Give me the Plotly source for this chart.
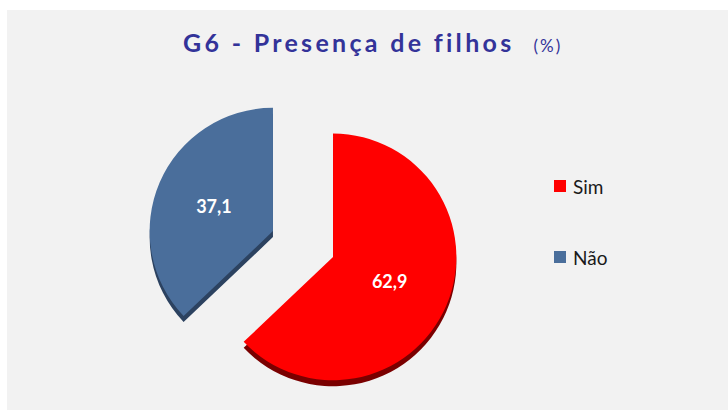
import plotly.graph_objects as go

categories = ["Sim", "Não"]
values = [62.9, 37.1]
value_labels = ["62,9", "37,1"]
colors = ["#FF0000", "#4A6E9B"]
shadow_colors = ["#7A0000", "#2C4260"]

W, H = 728, 412
dom_x = [147 / W, 459 / W]
dom_y = [12 / H, 324 / H]
shift = 6 / H

fig = go.Figure()

# 3D rim (shadow) pie, drawn behind
fig.add_trace(go.Pie(
    labels=categories, values=values, sort=False, direction="clockwise",
    rotation=0, pull=[0.265, 0.265],
    marker=dict(colors=shadow_colors, line=dict(width=0)),
    textinfo="none", hoverinfo="skip", showlegend=False,
    domain=dict(x=dom_x, y=[dom_y[0] - shift, dom_y[1] - shift]),
))

fig.add_trace(go.Pie(
    labels=categories, values=values, sort=False, direction="clockwise",
    rotation=0, pull=[0.265, 0.265],
    marker=dict(colors=colors, line=dict(width=0)),
    text=value_labels, textinfo="text", textposition="inside",
    insidetextorientation="horizontal",
    textfont=dict(family="Lato, Open Sans, sans-serif", size=18, color="white", weight="bold"),
    showlegend=False,
    domain=dict(x=dom_x, y=dom_y),
))

shapes = [
    dict(type="rect", xref="paper", yref="paper", x0=7 / W, x1=1, y0=1 - 410 / H, y1=1 - 10 / H,
         fillcolor="#F2F2F2", line=dict(width=0), layer="below"),
]
annotations = [
    dict(xref="paper", yref="paper", x=373 / W, y=1 - 42 / H, xanchor="center", yanchor="middle",
         showarrow=False,
         text='<span style="letter-spacing:3.3px"><b>G6 - Presença de filhos</b></span>'
              '<span style="font-size:17px;letter-spacing:2px">   (%)</span>',
         font=dict(family="Lato, Open Sans, sans-serif", size=25, color="#333399")),
]

# legend (manual, to reproduce the wide spacing)
legend_y = [186, 257]
for cat, col, ly in zip(categories, colors, legend_y):
    shapes.append(dict(type="rect", xref="paper", yref="paper",
                       x0=554 / W, x1=566 / W, y0=1 - (ly + 6) / H, y1=1 - (ly - 6) / H,
                       fillcolor=col, line=dict(width=0)))
    annotations.append(dict(xref="paper", yref="paper", x=571 / W, y=1 - ly / H,
                            xanchor="left", yanchor="middle", showarrow=False, text=cat,
                            font=dict(family="Lato, Open Sans, sans-serif", size=19, color="#1A1A1A")))

fig.update_layout(
    width=W, height=H,
    margin=dict(l=0, r=0, t=0, b=0),
    paper_bgcolor="white", plot_bgcolor="white",
    shapes=shapes, annotations=annotations,
    showlegend=False,
)

fig.write_html("out.html", config={"displayModeBar": False},
               post_script="document.body.style.margin='0';")
